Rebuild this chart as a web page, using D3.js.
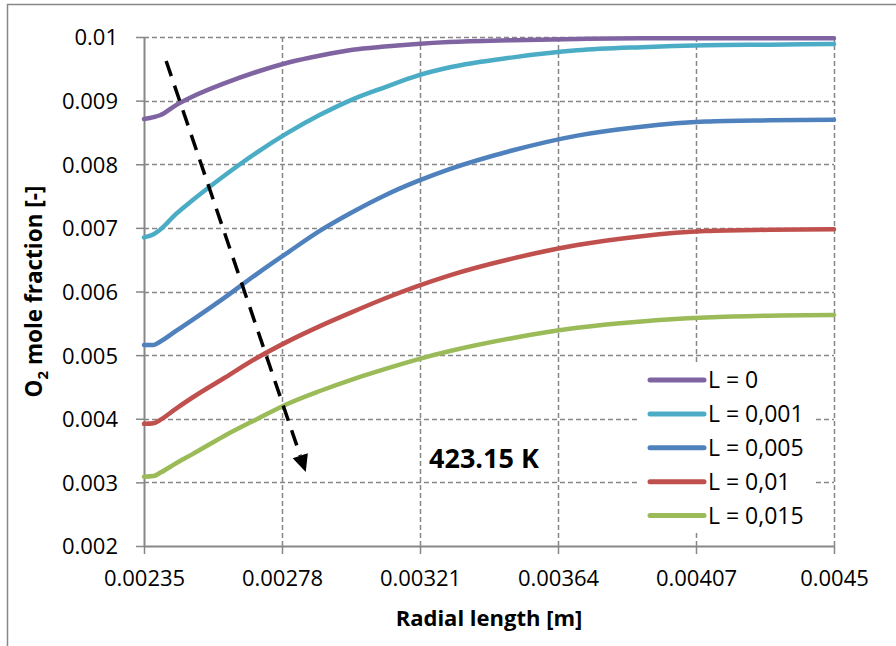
<!DOCTYPE html>
<html>
<head>
<meta charset="utf-8">
<script src="https://cdn.jsdelivr.net/npm/d3@7"></script>
<style>
  html, body { margin: 0; padding: 0; background: #ffffff; }
  svg { display: block; font-family: "Open Sans", "Liberation Sans", sans-serif; }
</style>
</head>
<body>
<svg id="chart" width="896" height="646"></svg>
<script>
// ---------- data ----------
const radialLength = [0.00235, 0.00238, 0.0024, 0.00245, 0.0025, 0.0026, 0.0027, 0.0028, 0.0029, 0.003,
                      0.0031, 0.0032, 0.0033, 0.0035, 0.0037, 0.0039, 0.0041, 0.0043, 0.0045];

const seriesNames = ["L = 0", "L = 0,001", "L = 0,005", "L = 0,01", "L = 0,015"];
const seriesColors = ["#8064A2", "#4BACC6", "#4F81BD", "#C0504D", "#9BBB59"];

const L0     = [0.00871, 0.00874, 0.00877, 0.00893, 0.00906, 0.00927, 0.00945, 0.00960, 0.00971, 0.00980,
                0.00985, 0.00989, 0.00992, 0.00995, 0.00997, 0.00998, 0.00998, 0.00998, 0.00998];
const L0001  = [0.00685, 0.00690, 0.00697, 0.00722, 0.00743, 0.00782, 0.00818, 0.00850, 0.00878, 0.00902,
                0.00921, 0.00939, 0.00952, 0.00968, 0.00979, 0.00984, 0.00987, 0.00988, 0.00989];
const L0005  = [0.00516, 0.00516, 0.00521, 0.00538, 0.00555, 0.00590, 0.00627, 0.00662, 0.00696, 0.00725,
                0.00751, 0.00773, 0.00792, 0.00822, 0.00845, 0.00859, 0.00867, 0.00869, 0.00870];
const L001   = [0.00392, 0.00393, 0.00398, 0.00416, 0.00433, 0.00464, 0.00495, 0.00522, 0.00546, 0.00568,
                0.00589, 0.00608, 0.00625, 0.00652, 0.00673, 0.00687, 0.00695, 0.00697, 0.00698];
const L0015  = [0.00309, 0.00310, 0.00315, 0.00330, 0.00344, 0.00373, 0.00399, 0.00424, 0.00444, 0.00462,
                0.00478, 0.00493, 0.00506, 0.00527, 0.00543, 0.00553, 0.00559, 0.00562, 0.00563];
const seriesValues = [L0, L0001, L0005, L001, L0015];

const xTicks = [0.00235, 0.00278, 0.00321, 0.00364, 0.00407, 0.0045];
const xTickLabels = ["0.00235", "0.00278", "0.00321", "0.00364", "0.00407", "0.0045"];
const yTicks = [0.002, 0.003, 0.004, 0.005, 0.006, 0.007, 0.008, 0.009, 0.01];
const yTickLabels = ["0.002", "0.003", "0.004", "0.005", "0.006", "0.007", "0.008", "0.009", "0.01"];

// annotation arrow (data units): start, tip
const arrowStart = [0.002419, 0.009623];
const arrowTip   = [0.002854, 0.003165];
const tempLabel = "423.15 K";

// ---------- layout ----------
const svg = d3.select("#chart");
const margin = { left: 144, top: 37, right: 62, bottom: 100 };
const W = 896, H = 646;
const plotW = W - margin.left - margin.right;   // 690
const plotH = H - margin.top - margin.bottom;   // 509
const gridColor = "#878787";

const x = d3.scaleLinear().domain([0.00235, 0.0045]).range([0, plotW]);
const y = d3.scaleLinear().domain([0.002, 0.01]).range([plotH, 0]);

// outer chart frame
svg.append("rect")
  .attr("x", 7.5).attr("y", 4.5).attr("width", 1000).attr("height", 1000)
  .attr("fill", "none").attr("stroke", gridColor).attr("stroke-width", 1.5);

const g = svg.append("g").attr("transform", `translate(${margin.left},${margin.top})`);

// gridlines
g.append("g").selectAll("line").data(yTicks.filter(d => d !== 0.002)).join("line")
  .attr("x1", 0).attr("x2", plotW)
  .attr("y1", d => Math.round(y(d)) + 0.5).attr("y2", d => Math.round(y(d)) + 0.5)
  .attr("stroke", gridColor).attr("stroke-width", 1.5).attr("stroke-dasharray", "5,3");
g.append("g").selectAll("line").data(xTicks.filter(d => d !== 0.00235)).join("line")
  .attr("y1", 0).attr("y2", plotH)
  .attr("x1", d => Math.round(x(d)) + 0.5).attr("x2", d => Math.round(x(d)) + 0.5)
  .attr("stroke", gridColor).attr("stroke-width", 1.5).attr("stroke-dasharray", "5,3");

// axes
const xAxis = d3.axisBottom(x).tickValues(xTicks).tickSize(8).tickPadding(12)
  .tickFormat((d, i) => xTickLabels[i]);
const yAxis = d3.axisLeft(y).tickValues(yTicks).tickSize(8).tickPadding(18)
  .tickFormat((d, i) => yTickLabels[i]);

const gx = g.append("g").attr("transform", `translate(0,${plotH})`).call(xAxis);
const gy = g.append("g").call(yAxis);
[gx, gy].forEach(ax => {
  ax.select(".domain").attr("stroke", gridColor).attr("stroke-width", 2);
  ax.selectAll(".tick line").attr("stroke", gridColor).attr("stroke-width", 1.5);
  ax.selectAll(".tick text").attr("fill", "#000").style("font-size", "22px")
    .style("font-family", "'Open Sans', sans-serif");
});
gx.select(".domain").attr("d", `M0,0.5H${plotW}`);
gy.select(".domain").attr("d", `M0.5,${plotH}V0`);
gy.selectAll(".tick text").attr("dy", "0.36em");
gx.selectAll(".tick text").attr("dy", "0.9em");

// series lines
const line = d3.line().x((d, i) => x(radialLength[i])).y(d => y(d)).curve(d3.curveMonotoneX);
g.append("g").selectAll("path").data(seriesValues).join("path")
  .attr("d", d => line(d))
  .attr("fill", "none")
  .attr("stroke", (d, i) => seriesColors[i])
  .attr("stroke-width", 4.5)
  .attr("stroke-linecap", "round")
  .attr("stroke-linejoin", "round");

// annotation arrow
const ax0 = x(arrowStart[0]), ay0 = y(arrowStart[1]);
const ax1 = x(arrowTip[0]), ay1 = y(arrowTip[1]);
const dx = ax1 - ax0, dy = ay1 - ay0, len = Math.hypot(dx, dy);
const ux = dx / len, uy = dy / len;
const headLen = 17, headHalf = 8;
const bx = ax1 - ux * headLen, by = ay1 - uy * headLen;
g.append("line")
  .attr("x1", ax0).attr("y1", ay0).attr("x2", bx).attr("y2", by)
  .attr("stroke", "#000").attr("stroke-width", 3.5).attr("stroke-dasharray", "16,10");
g.append("path")
  .attr("d", `M${ax1},${ay1}L${bx - uy * headHalf},${by + ux * headHalf}L${bx + uy * headHalf},${by - ux * headHalf}Z`)
  .attr("fill", "#000");

// temperature label
g.append("text")
  .attr("x", 429 - margin.left).attr("y", 468 - margin.top)
  .style("font-size", "27px").style("font-weight", "bold")
  .text(tempLabel);

// legend
const legend = g.append("g").attr("transform", `translate(${640 - margin.left},${362 - margin.top})`);
legend.append("rect").attr("x", 0).attr("y", 0).attr("width", 175).attr("height", 171).attr("fill", "#fff");
const rows = legend.selectAll("g").data(seriesNames).join("g")
  .attr("transform", (d, i) => `translate(0,${18 + i * 33.9})`);
rows.append("line").attr("x1", 10).attr("x2", 64).attr("y1", 0).attr("y2", 0)
  .attr("stroke", (d, i) => seriesColors[i]).attr("stroke-width", 5).attr("stroke-linecap", "round");
rows.append("text").attr("x", 68).attr("y", 0).attr("dy", "0.36em")
  .style("font-size", "23px").text(d => d);

// axis titles
svg.append("text")
  .attr("x", margin.left + plotW / 2).attr("y", 626)
  .attr("text-anchor", "middle").style("font-size", "22px").style("font-weight", "bold")
  .text("Radial length [m]");

const yt = svg.append("text")
  .attr("transform", `translate(42,${margin.top + plotH / 2}) rotate(-90)`)
  .attr("text-anchor", "middle").style("font-size", "22.5px").style("font-weight", "bold");
yt.append("tspan").text("O");
yt.append("tspan").attr("dy", 6).style("font-size", "15px").text("2");
yt.append("tspan").attr("dy", -6).text(" mole fraction [-]");
</script>
</body>
</html>
